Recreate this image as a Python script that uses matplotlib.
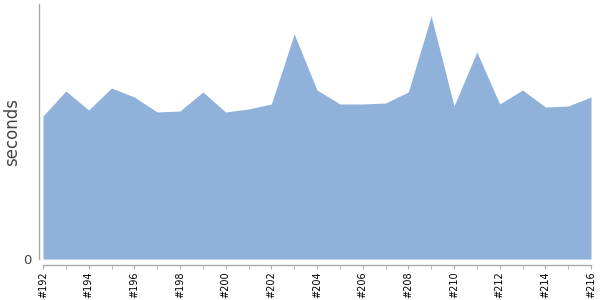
import matplotlib
matplotlib.use("Agg")
import matplotlib.pyplot as plt

builds = list(range(192, 217))
durations = [143, 168, 149, 171, 162, 147, 148, 167, 147, 150, 155, 225, 169,
             155, 155, 156, 167, 243, 153, 207, 155, 169, 152, 153, 162]
tick_builds = builds[::2]
tick_labels = [f"#{b}" for b in tick_builds]

FILL = "#8fb1da"
GRID = "#aaaaaa"

fig = plt.figure(figsize=(6, 3), dpi=100)
ax = fig.add_axes([43 / 600, 41 / 300, 548 / 600, 255 / 300])

ax.fill_between(builds, durations, 0, color=FILL, linewidth=0)
ax.set_xlim(builds[0], builds[-1])
ax.set_ylim(0, 255)

for side in ("top", "right"):
    ax.spines[side].set_visible(False)
ax.spines["left"].set_position(("outward", 3))
ax.spines["bottom"].set_position(("outward", 4))
for side in ("left", "bottom"):
    ax.spines[side].set_color(GRID)
    ax.spines[side].set_linewidth(1)

ax.set_yticks([0])
ax.set_yticklabels(["0"], fontsize=9.5, color="#444444")
ax.tick_params(axis="y", length=0, pad=5)

ax.set_xticks(builds, minor=True)
ax.set_xticks(tick_builds)
ax.set_xticklabels(tick_labels, rotation=90, fontsize=7, color="black")
ax.tick_params(axis="x", which="both", length=3, color=GRID, pad=2)

ax.set_ylabel("seconds", fontsize=12, color="#444444")
ax.yaxis.set_label_coords(-0.040, 0.5)

fig.savefig("out.png", dpi=100)
